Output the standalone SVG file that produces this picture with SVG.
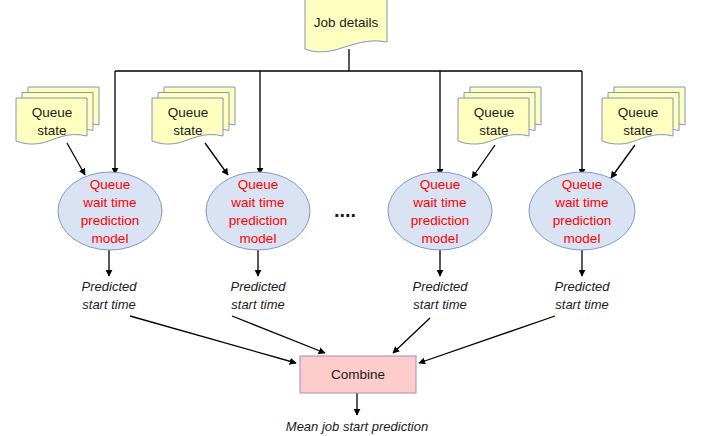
<svg xmlns="http://www.w3.org/2000/svg" width="702" height="436" viewBox="0 0 702 436">
<style>
.doc{fill:#FFFFC0;stroke:#8496B0;stroke-width:1}
.ell{fill:#DAE3F3;stroke:#8497C4;stroke-width:1}
.t{font-family:"Liberation Sans",Arial,sans-serif;font-size:13.5px;fill:#1a1a1a;text-anchor:middle}
.r{fill:#FF0000}
.i{font-style:italic;font-size:13px}
.ln{stroke:#000;stroke-width:1.3;fill:none}
.ar{stroke:#000;stroke-width:1.3;fill:none;marker-end:url(#ah)}
</style>
<defs>
<marker id="ah" viewBox="0 0 10 10" refX="9" refY="5" markerWidth="7" markerHeight="7" orient="auto" markerUnits="userSpaceOnUse">
<path d="M0,0 L10,5 L0,10 z" fill="#000"/>
</marker>
<path id="doc" d="M0,0 H71 V38 C52,33 38,42 26,45 C16,47 8,46 0,43 Z"/>
<g id="stack">
<use href="#doc" class="doc" x="12" y="-11"/>
<use href="#doc" class="doc" x="6" y="-5.5"/>
<use href="#doc" class="doc"/>
</g>
</defs>
<rect width="702" height="436" fill="#fff"/>
<g id="connectors">
<path class="ln" d="M349,49 V71 M115,71 H582"/>
<path class="ar" d="M115,71 V174"/>
<path class="ar" d="M260,71 V174"/>
<path class="ar" d="M440,71 V175"/>
<path class="ar" d="M582,71 V175"/>
<path class="ar" d="M67,143 L85,175"/>
<path class="ar" d="M205,143 L228,175"/>
<path class="ar" d="M495,145 L472,178"/>
<path class="ar" d="M635,145 L611,178"/>
<path class="ar" d="M109,250 V276"/>
<path class="ar" d="M258,250 V276"/>
<path class="ar" d="M440,250 V276"/>
<path class="ar" d="M582,250 V276"/>
<path class="ar" d="M130,316 L296,363"/>
<path class="ar" d="M232,316 L325,353"/>
<path class="ar" d="M430,318 L393,353"/>
<path class="ar" d="M555,316 L419,363"/>
<path class="ar" d="M357,393 V415"/>
</g>
<g id="job">
<path class="doc" d="M305,-1 H387 V42 C368,38 352,45 335,50 C322,53 312,52 305,49 Z"/>
<text class="t" x="346" y="27">Job details</text>
</g>
<g id="qs1"><use href="#stack" x="16" y="98"/><text class="t" x="52" y="117">Queue</text><text class="t" x="52" y="135">state</text></g>
<g id="qs2"><use href="#stack" x="152" y="98"/><text class="t" x="188" y="117">Queue</text><text class="t" x="188" y="135">state</text></g>
<g id="qs3"><use href="#stack" x="458" y="98"/><text class="t" x="494" y="117">Queue</text><text class="t" x="494" y="135">state</text></g>
<g id="qs4"><use href="#stack" x="602" y="98"/><text class="t" x="638" y="117">Queue</text><text class="t" x="638" y="135">state</text></g>
<g id="m1"><ellipse class="ell" cx="110" cy="211" rx="52" ry="39"/><text class="t r" x="110"><tspan x="110" y="189">Queue</tspan><tspan x="110" y="207">wait time</tspan><tspan x="110" y="225">prediction</tspan><tspan x="110" y="243">model</tspan></text></g>
<g id="m2"><ellipse class="ell" cx="258" cy="211" rx="52" ry="39"/><text class="t r" x="258"><tspan x="258" y="189">Queue</tspan><tspan x="258" y="207">wait time</tspan><tspan x="258" y="225">prediction</tspan><tspan x="258" y="243">model</tspan></text></g>
<g id="m3"><ellipse class="ell" cx="440" cy="211" rx="52" ry="39"/><text class="t r" x="440"><tspan x="440" y="189">Queue</tspan><tspan x="440" y="207">wait time</tspan><tspan x="440" y="225">prediction</tspan><tspan x="440" y="243">model</tspan></text></g>
<g id="m4"><ellipse class="ell" cx="582" cy="211" rx="53" ry="39"/><text class="t r" x="582"><tspan x="582" y="189">Queue</tspan><tspan x="582" y="207">wait time</tspan><tspan x="582" y="225">prediction</tspan><tspan x="582" y="243">model</tspan></text></g>
<text class="t" x="345" y="217" style="font-size:20px;font-weight:bold">....</text>
<g id="p1"><text class="t i"><tspan x="109" y="291">Predicted</tspan><tspan x="109" y="309">start time</tspan></text></g>
<g id="p2"><text class="t i"><tspan x="258" y="291">Predicted</tspan><tspan x="258" y="309">start time</tspan></text></g>
<g id="p3"><text class="t i"><tspan x="440" y="291">Predicted</tspan><tspan x="440" y="309">start time</tspan></text></g>
<g id="p4"><text class="t i"><tspan x="582" y="291">Predicted</tspan><tspan x="582" y="309">start time</tspan></text></g>
<g id="combine"><rect x="300" y="356" width="116" height="37" fill="#FFCCCC" stroke="#A08CC0" stroke-width="1"/><text class="t" x="358" y="379">Combine</text></g>
<text class="t i" x="357" y="431">Mean job start prediction</text>
</svg>
